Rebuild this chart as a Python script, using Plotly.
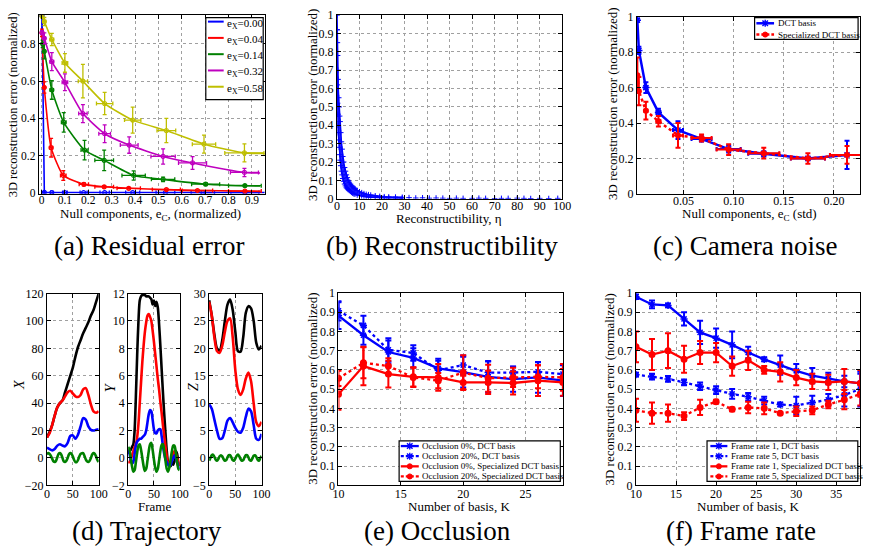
import plotly.graph_objects as go

W, H = 872, 556
FONT = "Liberation Serif"
BLUE, RED, GREEN, MAG, YEL, BLK = '#0000ff', '#ff0000', '#008000', '#bf00bf', '#bfbf00', '#000000'

# ---------------- (a) Residual error ----------------
a_labels = ['0.00', '0.04', '0.14', '0.32', '0.58']
a_blue_x = [0.002, 0.012, 0.044, 0.100, 0.180, 0.270, 0.390, 0.530, 0.690, 0.870]
a_blue_y = [0.950, 0.003, 0.002, 0.002, 0.002, 0.002, 0.002, 0.002, 0.002, 0.002]
a_blue_ey = [0.08, 0.0, 0.0, 0.0, 0.0, 0.0, 0.0, 0.0, 0.0, 0.0]
a_blue_ex = [0.001, 0.002, 0.005, 0.010, 0.015, 0.020, 0.030, 0.040, 0.050, 0.060]
a_red_x = [0.002, 0.012, 0.041, 0.093, 0.181, 0.268, 0.373, 0.534, 0.667, 0.870]
a_red_y = [0.860, 0.566, 0.243, 0.094, 0.046, 0.033, 0.025, 0.018, 0.013, 0.010]
a_red_ey = [0.020, 0.030, 0.050, 0.026, 0.008, 0.006, 0.005, 0.004, 0.003, 0.003]
a_red_ex = [0.002, 0.004, 0.007, 0.012, 0.020, 0.040, 0.050, 0.060, 0.065, 0.070]
a_green_x = [0.005, 0.012, 0.044, 0.095, 0.184, 0.268, 0.394, 0.520, 0.702, 0.870]
a_green_y = [0.800, 0.760, 0.553, 0.379, 0.230, 0.175, 0.094, 0.073, 0.047, 0.039]
a_green_ey = [0.020, 0.040, 0.050, 0.052, 0.052, 0.055, 0.025, 0.012, 0.008, 0.006]
a_green_ex = [0.003, 0.004, 0.007, 0.010, 0.015, 0.040, 0.050, 0.050, 0.060, 0.070]
a_mag_x = [0.002, 0.012, 0.044, 0.100, 0.177, 0.270, 0.375, 0.520, 0.646, 0.868]
a_mag_y = [0.860, 0.830, 0.705, 0.594, 0.426, 0.318, 0.257, 0.196, 0.161, 0.110]
a_mag_ey = [0.010, 0.030, 0.048, 0.045, 0.048, 0.048, 0.044, 0.041, 0.034, 0.022]
a_mag_ex = [0.002, 0.005, 0.008, 0.012, 0.018, 0.025, 0.038, 0.052, 0.060, 0.060]
a_yel_x = [0.002, 0.012, 0.044, 0.100, 0.177, 0.270, 0.390, 0.534, 0.695, 0.868]
a_yel_y = [0.950, 0.920, 0.824, 0.698, 0.600, 0.480, 0.391, 0.335, 0.262, 0.215]
a_yel_ey = [0.010, 0.022, 0.033, 0.050, 0.090, 0.060, 0.070, 0.065, 0.048, 0.048]
a_yel_ex = [0.002, 0.006, 0.008, 0.012, 0.020, 0.035, 0.035, 0.040, 0.050, 0.084]
a_tail_x = [0.955, 0.935, 0.935, 0.935, 0.955]
a_tail_y = [0.002, 0.008, 0.037, 0.107, 0.212]

# ---------------- (b) Reconstructibility ----------------
b_eta = [0.05, 0.1, 0.2, 0.3, 0.4, 0.5, 0.6, 0.8, 1.0, 1.2,
         1.4, 1.7, 2.0, 2.3, 2.6, 3.0, 3.4, 3.8, 4.2, 4.6,
         5.0, 5.5, 6.0, 6.5, 7.0, 7.5, 8.0, 9.0, 10, 11,
         12, 13, 14, 15, 17, 19, 21, 23, 26, 29]
b_hi = [1.0, 0.92, 0.85, 0.78, 0.70, 0.65, 0.60, 0.55, 0.50, 0.45,
        0.42, 0.36, 0.31, 0.27, 0.23, 0.20, 0.17, 0.15, 0.13, 0.115,
        0.10, 0.09, 0.08, 0.07, 0.065, 0.06, 0.055, 0.045, 0.038, 0.033,
        0.028, 0.024, 0.022, 0.020, 0.016, 0.013, 0.011, 0.010, 0.009, 0.008]
b_lo = [0.92, 0.78, 0.62, 0.52, 0.46, 0.40, 0.36, 0.32, 0.28, 0.24,
        0.21, 0.18, 0.15, 0.13, 0.11, 0.095, 0.08, 0.07, 0.06, 0.055,
        0.05, 0.045, 0.04, 0.035, 0.03, 0.027, 0.025, 0.02, 0.017, 0.015,
        0.012, 0.011, 0.009, 0.008, 0.007, 0.006, 0.005, 0.004, 0.004, 0.003]
b_sparse_eta = [32, 35, 38, 41, 44, 47, 50, 53, 56, 60, 63, 66, 70, 73, 76, 80, 83, 86, 90, 94, 98]
b_sparse_err = [0.006, 0.004, 0.005, 0.003, 0.004, 0.003, 0.002, 0.003, 0.002, 0.002, 0.003,
                0.002, 0.001, 0.002, 0.002, 0.003, 0.002, 0.001, 0.002, 0.001, 0.002]

# ---------------- (c) Camera noise ----------------
c_x = [0.004, 0.0055, 0.0125, 0.025, 0.0445, 0.068, 0.095, 0.130, 0.174, 0.213]
c_xerr = [0.0005, 0.001, 0.0015, 0.002, 0.005, 0.010, 0.012, 0.0155, 0.017, 0.017]
c_dct = [0.98, 0.81, 0.60, 0.46, 0.36, 0.31, 0.253, 0.226, 0.200, 0.220]
c_dct_err = [0.01, 0.02, 0.03, 0.02, 0.05, 0.015, 0.02, 0.015, 0.01, 0.08]
c_spec = [0.67, 0.58, 0.47, 0.41, 0.33, 0.315, 0.25, 0.23, 0.20, 0.22]
c_spec_err = [0.10, 0.08, 0.05, 0.03, 0.07, 0.02, 0.03, 0.03, 0.03, 0.05]
c_names = ['DCT basis', 'Specialized DCT basis']

# ---------------- (d) Trajectory ----------------
d_f5 = list(range(0, 101, 5))
d_f25 = [i * 2.5 for i in range(41)]
dX_black = [15, 19, 24, 31, 37, 40, 42, 48, 54, 60, 66, 74, 81, 86, 91, 95, 99, 104, 108, 114, 120]
dX_red = [15, 18, 24, 31, 37, 40, 42, 45, 48, 49, 47, 45, 44.5, 46, 50, 51, 46, 39, 34, 33, 34]
dX_blue = [7.5, 6.5, 5.5, 6.5, 9, 10, 9, 8.5, 11, 16, 16.5, 14, 17, 23, 29, 28, 23, 20.5, 20, 20.5, 21]
dX_green = [2.5, 3.5, 3, 1.5, -0.5, -2.5, -3, -2, 0.5, 3, 3.5, 2.5, 0, -2.5, -3, -2, 0, 2.5, 3.5, 3,
            1, -1.5, -3, -3, -1.5, 1, 3, 3.5, 3.5, 1.5, -1, -2.5, -3, -2, 0, 2.5, 3.5, 3, 1, -1.5, -3]
dY_black = [0.3, 0.5, 0.6, 0.8, 1.0, 2.0, 4.5, 7.5, 10, 11.5, 11.8, 11.9, 11.9, 11.9, 11.8, 11.8, 11.8,
            11.7, 11.6, 11.2, 11.5, 11.1, 11.4, 11.0, 9.8, 8.2, 6.5, 4.8, 3.2, 1.8, 0.5, -0.3, -0.4,
            -0.6, -0.3, -0.5, -0.2, 0.5, 0.3, -0.3, -0.6]
dY_red = [-0.3, -0.3, -0.1, 0.2, 0.5, 0.8, 1.0, 1.5, 2.5, 4.0, 5.5, 7.0, 8.2, 9.2, 9.9, 10.4, 10.5,
          10.3, 10.0, 9.3, 8.5, 7.6, 6.7, 5.8, 5.0, 4.1, 3.3, 2.4, 1.6, 0.8, 0.1, -0.4, -0.5, -0.3,
          0.0, 0.3, 0.5, 0.3, 0.0, -0.3, -0.6]
dY_blue = [0.6, 0.3, -0.1, -0.4, -0.3, 0.3, 0.9, 1.2, 1.3, 1.4, 1.4, 1.5, 1.6, 1.7, 2.0, 2.6, 3.2,
           3.5, 3.4, 2.8, 2.1, 1.8, 1.8, 2.0, 2.1, 2.1, 1.6, 0.9, 0.3, -0.1, -0.3, -0.5, -0.6, -0.5,
           -0.2, 0.0, 0.2, 0.0, -0.3, -0.6, -0.8]
dY_green = [0.8, 0.6, 0.0, -0.6, -1.0, -0.9, -0.3, 0.4, 0.9, 1.0, 0.6, 0.0, -0.6, -0.95, -0.8, -0.2,
            0.5, 1.0, 1.1, 0.6, -0.1, -0.7, -1.0, -0.8, -0.2, 0.5, 0.95, 1.0, 0.5, -0.2, -0.8, -1.0,
            -0.7, -0.1, 0.5, 0.9, 0.9, 0.4, -0.3, -0.8, -0.9]
dZ_black = [28.8, 26, 22.5, 20, 19.6, 21.5, 25, 28, 28.9, 27, 23, 19.5, 19.4, 22, 26.5, 27.7, 27.3, 25, 21, 19.8, 20.5]
dZ_red = [28.5, 26, 22, 19.5, 19.2, 20.5, 23, 25, 25.5, 22, 16, 12.5, 11.5, 12.5, 14.5, 15.6, 14, 10, 6.5, 5.8, 6.6]
dZ_blue = [9.8, 9, 7, 5, 3.5, 3.6, 5, 6.8, 7.3, 6.5, 5.5, 4.8, 4.6, 5.5, 7.5, 9, 8.5, 6, 3.5, 3.3, 4.4]
dZ_green = [-0.5, 0.0, 0.5, 0.6, 0.2, -0.3, -0.5, -0.2, 0.3, 0.5, 0.3, -0.2, -0.5, -0.4, 0.1, 0.5, 0.5,
            0.1, -0.4, -0.5, -0.1, 0.4, 0.6, 0.3, -0.2, -0.5, -0.4, 0.1, 0.5, 0.5, 0.1, -0.4, -0.5, -0.1,
            0.4, 0.5, 0.2, -0.3, -0.5, -0.1, 0.4]

# ---------------- (e) Occlusion ----------------
e_K = [10, 12, 14, 16, 18, 20, 22, 24, 26, 28]
e_b0 = [0.882, 0.78, 0.693, 0.662, 0.608, 0.588, 0.564, 0.552, 0.561, 0.544]
e_b0_err = [0.07, 0.05, 0.06, 0.05, 0.05, 0.08, 0.08, 0.065, 0.08, 0.08]
e_b20 = [0.907, 0.831, 0.704, 0.688, 0.598, 0.625, 0.586, 0.586, 0.59, 0.578]
e_b20_err = [0.05, 0.05, 0.06, 0.04, 0.05, 0.05, 0.06, 0.03, 0.05, 0.05]
e_r0 = [0.473, 0.62, 0.578, 0.564, 0.561, 0.535, 0.535, 0.532, 0.544, 0.535]
e_r0_err = [0.08, 0.10, 0.07, 0.05, 0.07, 0.035, 0.06, 0.06, 0.08, 0.07]
e_r20 = [0.556, 0.637, 0.62, 0.561, 0.544, 0.586, 0.557, 0.561, 0.564, 0.561]
e_r20_err = [0.04, 0.08, 0.04, 0.05, 0.04, 0.09, 0.07, 0.05, 0.06, 0.07]
e_names = ['Occlusion 0%, DCT basis', 'Occlusion 20%, DCT basis',
           'Occlusion 0%, Specialized DCT basis', 'Occlusion 20%, Specialized DCT basis']

# ---------------- (f) Frame rate ----------------
f_K = [10, 12, 14, 16, 18, 20, 22, 24, 26, 28, 30, 32, 34, 36, 38]
f_b1 = [0.98, 0.94, 0.935, 0.865, 0.795, 0.765, 0.73, 0.69, 0.655, 0.625, 0.595, 0.57, 0.555, 0.54, 0.53]
f_b1_err = [0.012, 0.02, 0.01, 0.035, 0.06, 0.05, 0.07, 0.03, 0.01, 0.05, 0.035, 0.04, 0.03, 0.03, 0.05]
f_b5 = [0.575, 0.565, 0.553, 0.535, 0.515, 0.495, 0.475, 0.46, 0.44, 0.42, 0.415, 0.43, 0.445, 0.47, 0.50]
f_b5_err = [0.01, 0.015, 0.015, 0.015, 0.02, 0.02, 0.025, 0.02, 0.02, 0.01, 0.045, 0.035, 0.03, 0.06, 0.09]
f_r1 = [0.72, 0.68, 0.70, 0.655, 0.69, 0.69, 0.62, 0.65, 0.60, 0.59, 0.56, 0.54, 0.535, 0.54, 0.53]
f_r1_err = [0.08, 0.08, 0.09, 0.07, 0.06, 0.05, 0.05, 0.05, 0.02, 0.05, 0.04, 0.04, 0.04, 0.065, 0.07]
f_r5 = [0.39, 0.375, 0.375, 0.36, 0.405, 0.435, 0.395, 0.405, 0.40, 0.375, 0.385, 0.39, 0.42, 0.445, 0.475]
f_r5_err = [0.06, 0.055, 0.045, 0.02, 0.04, 0.01, 0.01, 0.03, 0.03, 0.005, 0.025, 0.02, 0.02, 0.05, 0.06]
f_names = ['Frame rate 1, DCT basis', 'Frame rate 5, DCT basis',
           'Frame rate 1, Specialized DCT basis', 'Frame rate 5, Specialized DCT basis']

captions = ['(a) Residual error', '(b) Reconstructibility', '(c) Camera noise',
            '(d) Trajectory', '(e) Occlusion', '(f) Frame rate']

# =====================================================================
def px(x):
    return x / W


def py(y):
    return 1 - y / H


fig = go.Figure()
layout_axes = {}


def axis_style(**kw):
    base = dict(showline=True, linecolor='black', linewidth=1, mirror='ticks', ticks='inside',
                ticklen=4, tickcolor='black', tickwidth=1, showgrid=True, gridcolor='#a0a0a0',
                griddash='dot', gridwidth=1, zeroline=False)
    base.update(kw)
    return base


def add_axes(i, box, xkw, ykw, fs=12, xstand=-4):
    l, r, t, b = box
    sfx = '' if i == 1 else str(i)
    layout_axes['xaxis' + sfx] = axis_style(domain=[px(l), px(r)], anchor='y' + sfx, ticklabelstandoff=xstand,
                                            tickfont=dict(family=FONT, size=fs, color='black'), **xkw)
    layout_axes['yaxis' + sfx] = axis_style(domain=[py(b), py(t)], anchor='x' + sfx,
                                            tickfont=dict(family=FONT, size=fs, color='black'), **ykw)


def ref(i):
    sfx = '' if i == 1 else str(i)
    return dict(xaxis='x' + sfx, yaxis='y' + sfx)


# axes boxes (left, right, top, bottom) in pixels
add_axes(1, (33.3, 263.3, 8.3, 191.7), dict(range=[-0.012, 0.955], dtick=0.1, tick0=0),
         dict(range=[-0.005, 0.955], dtick=0.2, tick0=0), fs=11.5, xstand=-5)
add_axes(2, (336.7, 566, 8.3, 196.7), dict(range=[0, 100], dtick=10),
         dict(range=[0, 1], dtick=0.1), fs=12, xstand=-4)
add_axes(3, (642, 869, 10, 191.7),
         dict(range=[0.0036, 0.226], tickvals=[0.05, 0.10, 0.15, 0.20],
              ticktext=['0.05', '0.10', '0.15', '0.20']),
         dict(range=[0, 1], dtick=0.2), fs=12, xstand=-4)
add_axes(4, (41.7, 94.3, 294, 490.7), dict(range=[0, 100], tickvals=[0, 50, 100]),
         dict(range=[-20, 120], dtick=20), fs=12, xstand=-3)
add_axes(5, (124.3, 176.7, 294, 490.7), dict(range=[0, 100], tickvals=[0, 50, 100]),
         dict(range=[-2, 12], dtick=2), fs=12, xstand=-3)
add_axes(6, (206.7, 260, 294, 490.7), dict(range=[0, 100], tickvals=[0, 50, 100]),
         dict(range=[-5, 30], dtick=5), fs=12, xstand=-3)
add_axes(7, (338.3, 566.7, 293.3, 490.7), dict(range=[10, 28], tickvals=[10, 15, 20, 25]),
         dict(range=[0, 1], dtick=0.1), fs=12, xstand=-3)
add_axes(8, (641, 869.3, 293.3, 490.7), dict(range=[10, 38], tickvals=[10, 15, 20, 25, 30, 35]),
         dict(range=[0, 1], dtick=0.1), fs=12, xstand=-3)

# ---------------- (a) traces ----------------
a_series = [
    (a_blue_x, a_blue_y, a_blue_ex, a_blue_ey, BLUE, 'linear'),
    (a_red_x, a_red_y, a_red_ex, a_red_ey, RED, 'spline'),
    (a_green_x, a_green_y, a_green_ex, a_green_ey, GREEN, 'spline'),
    (a_mag_x, a_mag_y, a_mag_ex, a_mag_ey, MAG, 'spline'),
    (a_yel_x, a_yel_y, a_yel_ex, a_yel_ey, YEL, 'spline'),
]
for k, (xs, ys, exs, eys, col, shp) in enumerate(a_series):
    fig.add_trace(go.Scatter(x=list(xs) + [a_tail_x[k]], y=list(ys) + [a_tail_y[k]], mode='lines',
                             line=dict(color=col, width=1.6, shape=shp, smoothing=0.5),
                             showlegend=False, hoverinfo='skip', **ref(1)))
    fig.add_trace(go.Scatter(x=xs, y=ys, mode='markers',
                             marker=dict(symbol='circle-open', size=4, color=col, line=dict(width=1.2)),
                             error_x=dict(type='data', array=exs, color=col, thickness=1.3, width=2),
                             error_y=dict(type='data', array=eys, color=col, thickness=1.3, width=2),
                             showlegend=False, **ref(1)))

# ---------------- (b) traces ----------------
fig.add_trace(go.Scatter(x=b_eta, y=b_lo, mode='lines', line=dict(color=BLUE, width=1.5),
                         showlegend=False, hoverinfo='skip', **ref(2)))
fig.add_trace(go.Scatter(x=b_eta, y=b_hi, mode='lines', line=dict(color=BLUE, width=1.5),
                         fill='tonexty', fillcolor='rgba(0,0,255,0.85)',
                         showlegend=False, hoverinfo='skip', **ref(2)))
for ys in (b_hi, b_lo):
    fig.add_trace(go.Scatter(x=b_eta, y=ys, mode='markers',
                             marker=dict(symbol='cross-thin-open', size=4, color=BLUE, line=dict(width=1, color=BLUE)),
                             showlegend=False, **ref(2)))
fig.add_trace(go.Scatter(x=b_sparse_eta, y=b_sparse_err, mode='markers',
                         marker=dict(symbol='cross-thin-open', size=4, color=BLUE, line=dict(width=1, color=BLUE)),
                         showlegend=False, **ref(2)))

# ---------------- (c) traces ----------------
fig.add_trace(go.Scatter(x=c_x, y=c_dct, mode='lines+markers', name=c_names[0],
                         line=dict(color=BLUE, width=2.5),
                         marker=dict(symbol='asterisk-open', size=6, color=BLUE, line=dict(width=1.5, color=BLUE)),
                         error_x=dict(type='data', array=c_xerr, color=BLUE, thickness=2, width=2),
                         error_y=dict(type='data', array=c_dct_err, color=BLUE, thickness=2, width=2.5),
                         showlegend=False, **ref(3)))
fig.add_trace(go.Scatter(x=c_x, y=c_spec, mode='lines+markers', name=c_names[1],
                         line=dict(color=RED, width=2.5, dash='3px,3px'),
                         marker=dict(symbol='circle', size=6, color=RED),
                         error_x=dict(type='data', array=c_xerr, color=RED, thickness=2, width=2),
                         error_y=dict(type='data', array=c_spec_err, color=RED, thickness=2, width=2.5),
                         showlegend=False, **ref(3)))

# ---------------- (d) traces ----------------
d_sets = [
    (4, [(d_f5, dX_black, BLK), (d_f5, dX_red, RED), (d_f5, dX_blue, BLUE), (d_f25, dX_green, GREEN)]),
    (5, [(d_f25, dY_black, BLK), (d_f25, dY_red, RED), (d_f25, dY_blue, BLUE), (d_f25, dY_green, GREEN)]),
    (6, [(d_f5, dZ_black, BLK), (d_f5, dZ_red, RED), (d_f5, dZ_blue, BLUE), (d_f25, dZ_green, GREEN)]),
]
for ax, series in d_sets:
    for fr, vals, col in series:
        fig.add_trace(go.Scatter(x=fr, y=vals, mode='lines',
                                 line=dict(color=col, width=2.6, shape='spline', smoothing=0.8),
                                 showlegend=False, **ref(ax)))


# ---------------- (e), (f) traces ----------------
def add_basis_traces(ax, K, series):
    for vals, errs, col, dash, sym, name in series:
        fig.add_trace(go.Scatter(x=K, y=vals, mode='lines+markers', name=name,
                                 line=dict(color=col, width=2.3, dash=dash),
                                 marker=dict(symbol=sym, size=6 if sym != 'circle' else 5.5, color=col,
                                             line=dict(width=1.5, color=col)),
                                 error_y=dict(type='data', array=errs, color=col, thickness=2, width=3),
                                 showlegend=False, **ref(ax)))


add_basis_traces(7, e_K, [
    (e_b20, e_b20_err, BLUE, '3px,3px', 'asterisk-open', e_names[1]),
    (e_b0, e_b0_err, BLUE, 'solid', 'asterisk-open', e_names[0]),
    (e_r20, e_r20_err, RED, '3px,3px', 'circle', e_names[3]),
    (e_r0, e_r0_err, RED, 'solid', 'circle', e_names[2]),
])
add_basis_traces(8, f_K, [
    (f_b1, f_b1_err, BLUE, 'solid', 'asterisk-open', f_names[0]),
    (f_b5, f_b5_err, BLUE, '3px,3px', 'asterisk-open', f_names[1]),
    (f_r1, f_r1_err, RED, 'solid', 'circle', f_names[2]),
    (f_r5, f_r5_err, RED, '3px,3px', 'circle', f_names[3]),
])

# ---------------- manual legends ----------------
shapes = []
annotations = []


def box(x0, y0, x1, y1):
    shapes.append(dict(type='rect', xref='paper', yref='paper', x0=px(x0), x1=px(x1), y0=py(y1), y1=py(y0),
                       line=dict(color='black', width=1.2), fillcolor='white', layer='above'))


def sample(x0, x1, y, col, dash='solid', width=2, marker=None):
    shapes.append(dict(type='line', xref='paper', yref='paper', x0=px(x0), x1=px(x1), y0=py(y), y1=py(y),
                       line=dict(color=col, width=width, dash=dash), layer='above'))
    cx = (x0 + x1) / 2
    if marker == 'dot':
        r = 2.6
        shapes.append(dict(type='circle', xref='paper', yref='paper', x0=px(cx - r), x1=px(cx + r),
                           y0=py(y + r), y1=py(y - r), fillcolor=col,
                           line=dict(color=col, width=1), layer='above'))
    elif marker == 'star':
        r = 2.8
        p = (f'M{px(cx - r)},{py(y - r)} L{px(cx + r)},{py(y + r)} '
             f'M{px(cx - r)},{py(y + r)} L{px(cx + r)},{py(y - r)} '
             f'M{px(cx)},{py(y - r - 0.8)} L{px(cx)},{py(y + r + 0.8)}')
        shapes.append(dict(type='path', xref='paper', yref='paper', path=p,
                           line=dict(color=col, width=1.4), layer='above'))


def text(x, y, s, size, xanchor='left', angle=0, italic=False):
    f = dict(family=FONT, size=size, color='black')
    if italic:
        f['style'] = 'italic'
    annotations.append(dict(x=px(x), y=py(y), xref='paper', yref='paper', text=s, showarrow=False,
                            xanchor=xanchor, yanchor='middle', textangle=angle, font=f))


# (a) legend
box(203.3, 11, 261.7, 95)
a_cols = [BLUE, RED, GREEN, MAG, YEL]
for k in range(5):
    yy = 15.0 + k * 16.7
    sample(205.5, 221.5, yy, a_cols[k], width=2)
    text(223, yy + 2.0, 'e<sub>X</sub>=' + a_labels[k], 11)

# (c) legend
box(761.7, 11, 867, 33.3)
sample(763.5, 781.5, 16.7, BLUE, width=2.5, marker='star')
text(783, 16.7, c_names[0], 9)
sample(763.5, 781.5, 28.3, RED, dash='3px,2px', width=2.5, marker='dot')
text(783, 28.3, c_names[1], 9)

# (e) and (f) legends
for bx0, bx1, lx0, lx1, tx, names in [(400, 564, 401.7, 420, 421.5, e_names),
                                       (713.3, 866.7, 716.7, 734, 735.7, f_names)]:
    box(bx0, 445, bx1, 486.7)
    specs = [(BLUE, 'solid', 'star'), (BLUE, '3px,2px', 'star'), (RED, 'solid', 'dot'), (RED, '3px,2px', 'dot')]
    for k in range(4):
        yy = 450.4 + k * 10.4
        col, dash, mk = specs[k]
        sample(lx0, lx1, yy, col, dash=dash, width=2.3, marker=mk)
        text(tx, yy, names[k], 9)

# ---------------- axis titles ----------------
YT = '3D reconstruction error (normalized)'
text(8, 100, YT, 12.5, xanchor='center', angle=-90)
text(312, 101, YT, 13, xanchor='center', angle=-90)
text(617, 99, YT, 13, xanchor='center', angle=-90)
text(311, 392, YT, 13, xanchor='center', angle=-90)
text(614, 392, YT, 13, xanchor='center', angle=-90)
text(147, 213, 'Null components, e<sub>C</sub>, (normalized)', 13, xanchor='center')
text(451, 217, 'Reconstructibility, η', 13, xanchor='center')
text(757, 213, 'Null components, e<sub>C</sub> (std)', 13, xanchor='center')
text(151, 512, 'Frame', 13, xanchor='center')
text(461, 512, 'Number of basis, K', 13, xanchor='center')
text(755, 512, 'Number of basis, K', 13, xanchor='center')
text(13, 388, 'X', 14, xanchor='center', angle=-90, italic=True)
text(106, 390, 'Y', 14, xanchor='center', angle=-90, italic=True)
text(190, 390, 'Z', 14, xanchor='center', angle=-90, italic=True)

# ---------------- captions ----------------
cap_pos = [(145, 245), (444, 245), (752, 245), (143, 538), (439, 538), (748, 538)]
for (cx, cy), s in zip(cap_pos, captions):
    text(cx, cy, s, 27, xanchor='center')

fig.update_layout(width=W, height=H, margin=dict(l=0, r=0, t=0, b=0),
                  paper_bgcolor='white', plot_bgcolor='white', showlegend=False,
                  font=dict(family=FONT, color='black'),
                  shapes=shapes, annotations=annotations, **layout_axes)

fig.write_html("out.html", config={'displayModeBar': False},
               post_script="document.body.style.margin='0px';document.body.style.overflow='hidden';")
